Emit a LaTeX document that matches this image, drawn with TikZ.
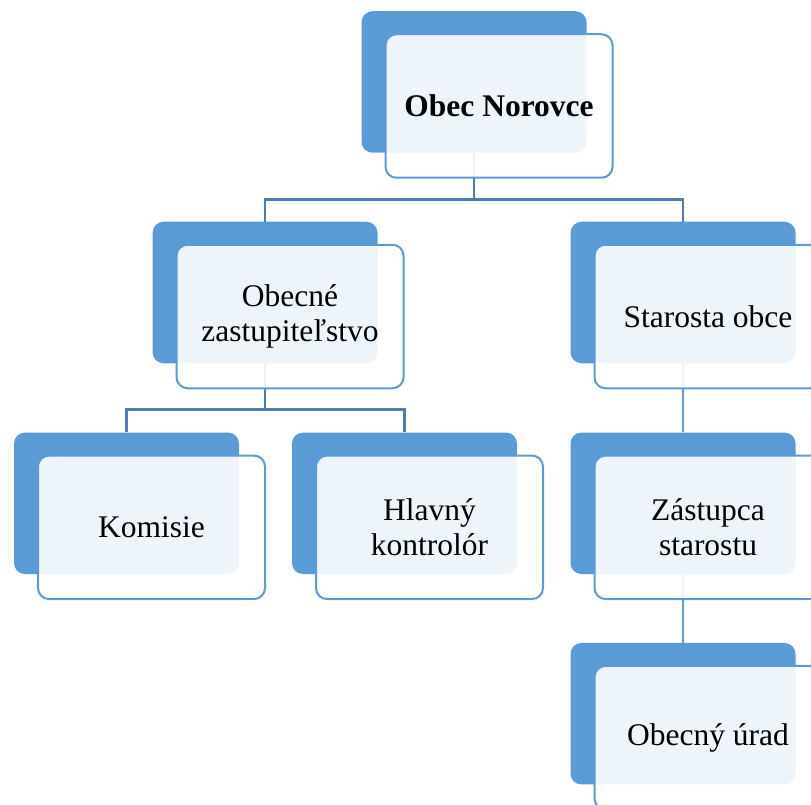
\documentclass[tikz,border=0pt]{standalone}
\usepackage{fontspec}
\setmainfont{Liberation Serif}
\usepackage{tikz}
\usetikzlibrary{positioning,calc}
\definecolor{accent}{HTML}{5B9BD5}
\definecolor{linkdark}{HTML}{4A7EB4}

\begin{document}
\begin{tikzpicture}[x=1pt,y=-1pt,
    back/.style={rectangle,rounded corners=11pt,fill=accent,minimum width=225pt,minimum height=141.5pt,inner sep=0pt},
    front/.style={rectangle,rounded corners=11pt,draw=accent,line width=2pt,fill=white,fill opacity=0.9,text opacity=1,minimum width=227pt,minimum height=143.5pt,inner sep=0pt,align=center,font=\fontsize{31.5}{34.5}\selectfont},
    link/.style={draw=linkdark,line width=2.5pt},
    sublink/.style={draw=accent,line width=2.5pt}]
    \useasboundingbox (0,0) rectangle (811,805);
    % Back boxes
    \node[back] (topB) at (474,82) {};
    \node[back] (obecB) at (265,292.5) {};
    \node[back] (starB) at (683,292.5) {};
    \node[back] (komB) at (126.5,503.3) {};
    \node[back] (hlavB) at (404.5,503.3) {};
    \node[back] (zastB) at (683,503.3) {};
    \node[back] (uradB) at (683,713.7) {};

    % Connectors
    \coordinate (bar1) at (474,199.5);
    \draw[link] (topB.south) -- (bar1) -| (obecB.north);
    \draw[link] (bar1) -| (starB.north);
    \coordinate (bar2) at (265,409.5);
    \draw[link] (obecB.south) -- (bar2) -| (komB.north);
    \draw[link] (bar2) -| (hlavB.north);
    \draw[sublink] (starB.south) -- (zastB.north);
    \draw[sublink] (zastB.south) -- (uradB.north);

    % Front boxes
    \node[front] (topF) at ($(topB)+(25,24)$) {\textbf{Obec Norovce}};
    \node[front] (obecF) at ($(obecB)+(25,24)$) {Obecné\\zastupiteľstvo};
    \node[front] (starF) at ($(starB)+(25,24)$) {Starosta obce};
    \node[front] (komF) at ($(komB)+(25,24)$) {Komisie};
    \node[front] (hlavF) at ($(hlavB)+(25,24)$) {Hlavný\\kontrolór};
    \node[front] (zastF) at ($(zastB)+(25,24)$) {Zástupca\\starostu};
    \node[front] (uradF) at ($(uradB)+(25,24)$) {Obecný úrad};
\end{tikzpicture}
\end{document}
